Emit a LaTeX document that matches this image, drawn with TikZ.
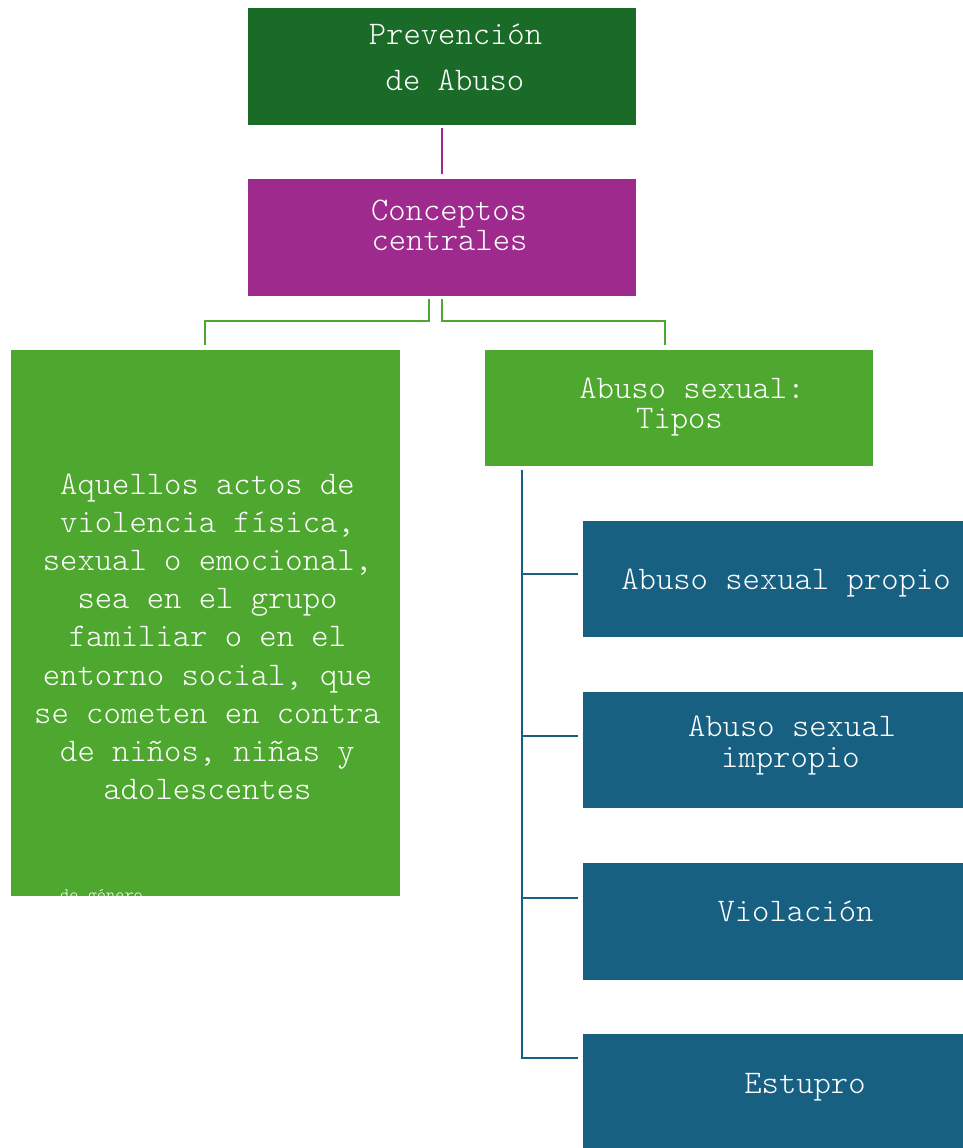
\documentclass[tikz,border=0pt]{standalone}
\definecolor{darkgreen}{RGB}{26,107,39}
\definecolor{plum}{RGB}{158,42,142}
\definecolor{leaf}{RGB}{78,167,46}
\definecolor{sea}{RGB}{23,96,130}
\begin{document}
\begin{tikzpicture}[x=1pt,y=-1pt,
  blk/.style={draw=none, inner sep=0pt, outer sep=0pt},
  txt/.style={text=white, inner sep=0pt, anchor=base, font=\ttfamily\fontseries{l}\fontsize{33}{33}\selectfont},
  small/.style={text=white, inner sep=0pt, anchor=base west, font=\ttfamily\fontseries{l}\fontsize{17.5}{17.5}\selectfont}]
\useasboundingbox (0,0) rectangle (963,1148);

% boxes
\path[fill=darkgreen] (248,8) rectangle (636,125);
\node[blk, minimum width=388pt, minimum height=117pt] (prev) at (442,66.5) {};
\path[fill=plum] (248,179) rectangle (636,296);
\node[blk, minimum width=388pt, minimum height=117pt] (conc) at (442,237.5) {};
\path[fill=leaf] (11,350) rectangle (400,896);
\node[blk, minimum width=389pt, minimum height=546pt] (def) at (205.5,623) {};
\path[fill=leaf] (485,350) rectangle (873,466);
\node[blk, minimum width=388pt, minimum height=116pt] (tipos) at (679,408) {};
\path[fill=sea] (583,521) rectangle (963,637);
\node[blk, minimum width=380pt, minimum height=116pt] (b1) at (773,579) {};
\path[fill=sea] (583,692) rectangle (963,808);
\node[blk, minimum width=380pt, minimum height=116pt] (b2) at (773,750) {};
\path[fill=sea] (583,863) rectangle (963,980);
\node[blk, minimum width=380pt, minimum height=117pt] (b3) at (773,921.5) {};
\path[fill=sea] (583,1034) rectangle (963,1148);
\node[blk, minimum width=380pt, minimum height=114pt] (b4) at (773,1091) {};

% connectors (gaps left between line ends and boxes)
\draw[plum, line width=2.4pt] ([yshift=-3pt]prev.south) -- ([yshift=5pt]conc.north);
\draw[leaf, line width=2.4pt] ([xshift=-13pt,yshift=-3pt]conc.south) |- (205,321) -- ([xshift=-0.5pt,yshift=5pt]def.north);
\draw[leaf, line width=2.4pt] ([yshift=-3pt]conc.south) |- (665,321) -- ([xshift=-14pt,yshift=5pt]tipos.north);
\coordinate (trunk) at (522,470);
\draw[sea, line width=2.8pt] (trunk) -- (522,1058) -- ([xshift=-5pt]b4.west |- 0,1058);
\draw[sea, line width=2.8pt] (522,574) -- ([xshift=-5pt]b1.west |- 0,574);
\draw[sea, line width=2.8pt] (522,736) -- ([xshift=-5pt]b2.west |- 0,736);
\draw[sea, line width=2.8pt] (522,898) -- ([xshift=-5pt]b3.west |- 0,898);

% texts
\node[txt] (t1a) at (455.5,45) {Prevención};
\node[txt] (t1b) at (455,90) {de Abuso};
\node[txt] (t2a) at (449,220) {Conceptos};
\node[txt] (t2b) at (449.5,250) {centrales};
\node[txt] (t3a) at (692,398) {Abuso sexual:};
\node[txt] (t3b) at (679.5,428) {Tipos};
\node[txt] (t4a) at (207.5,494) {Aquellos actos de};
\node[txt] (t4b) at (207.5,532) {violencia física,};
\node[txt] (t4c) at (207.5,570) {sexual o emocional,};
\node[txt] (t4d) at (207.5,608) {sea en el grupo};
\node[txt] (t4e) at (207.5,646) {familiar o en el};
\node[txt] (t4f) at (207.5,685) {entorno social, que};
\node[txt] (t4g) at (207.5,723) {se cometen en contra};
\node[txt] (t4h) at (207.5,761) {de niños, niñas y};
\node[txt] (t4i) at (207.5,799) {adolescentes};
\begin{scope}
  \clip (11,350) rectangle (400,896);
  \node[small] (t4j) at (60,900.5) {de género};
\end{scope}
\node[txt] (t5) at (786,589) {Abuso sexual propio};
\node[txt] (t6a) at (792,736) {Abuso sexual};
\node[txt] (t6b) at (790.5,767) {impropio};
\node[txt] (t7) at (795.5,921) {Violación};
\node[txt] (t8) at (805,1093) {Estupro};
\end{tikzpicture}
\end{document}
